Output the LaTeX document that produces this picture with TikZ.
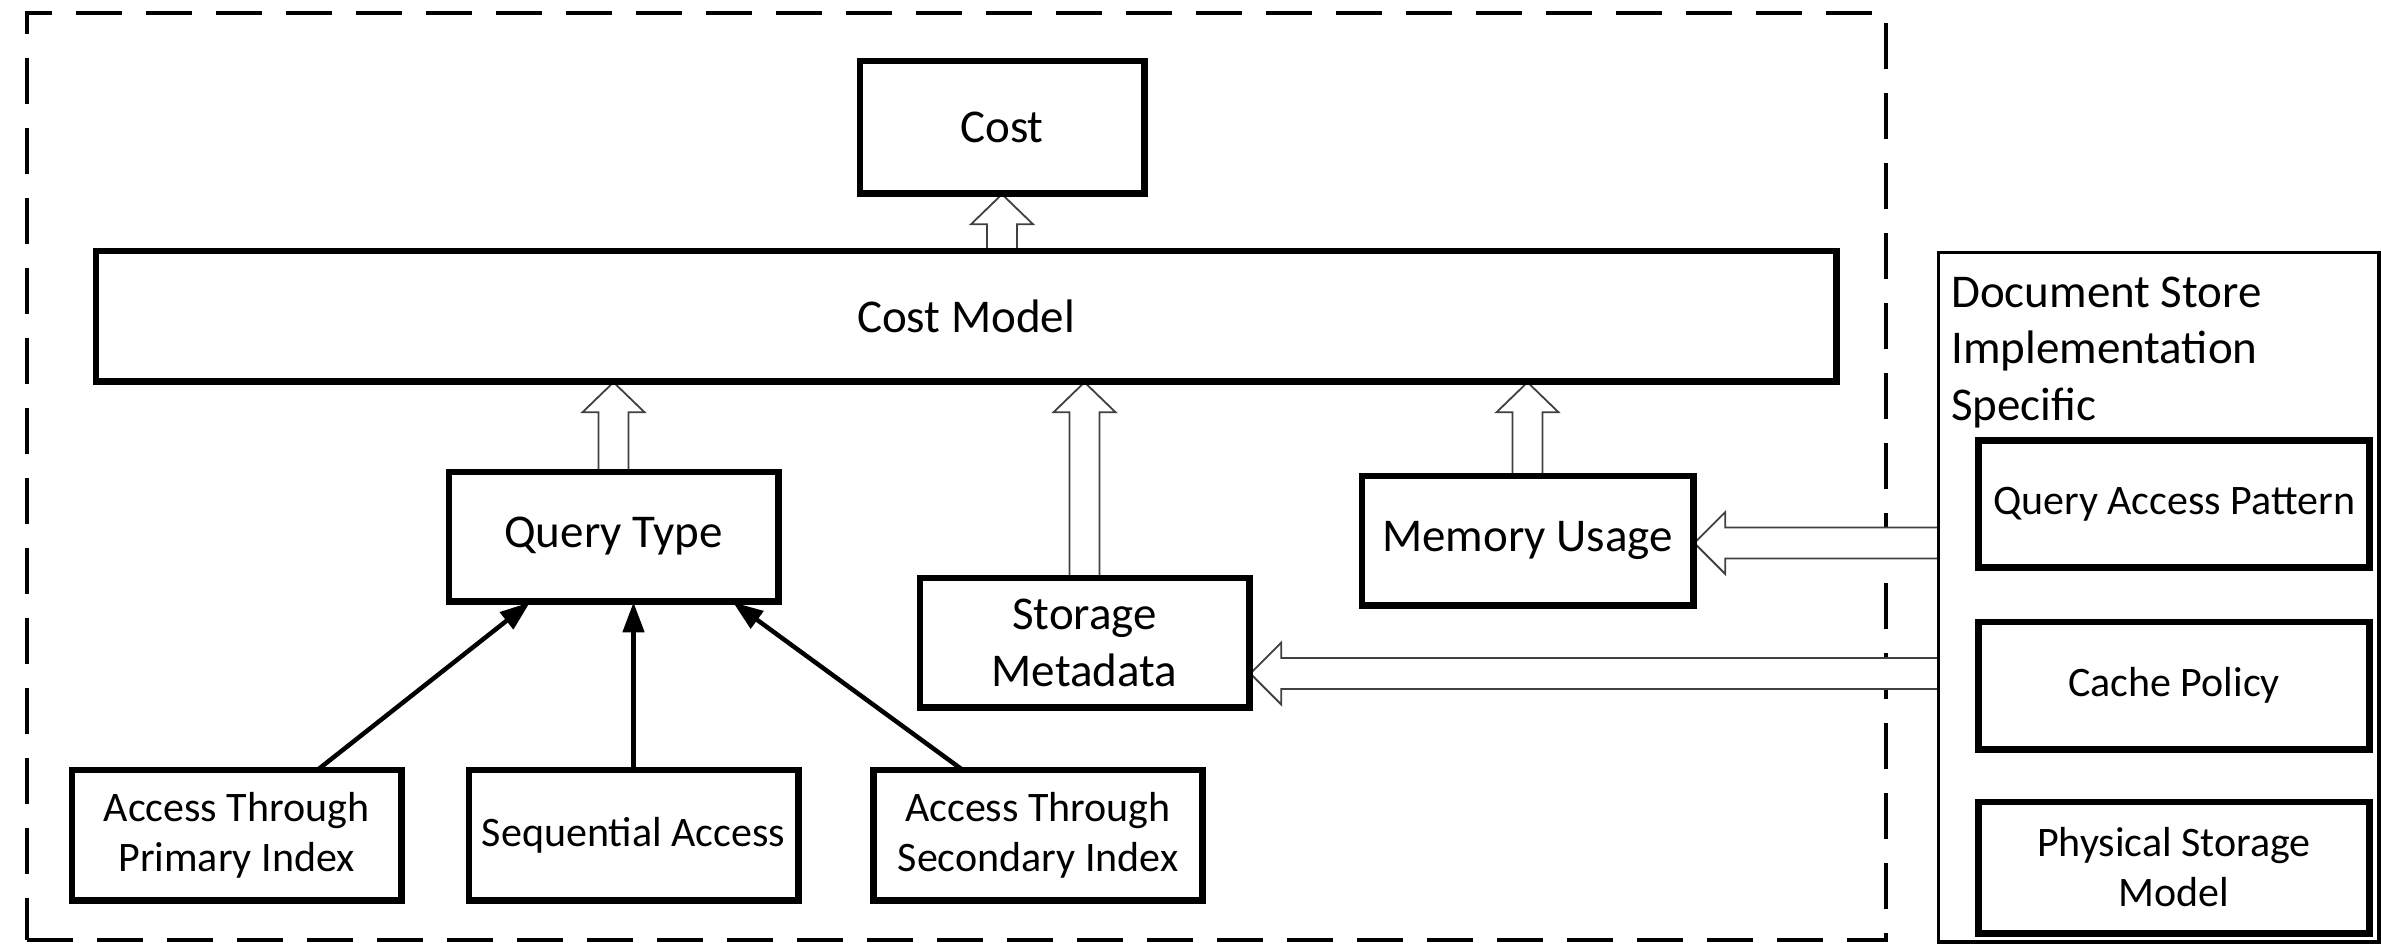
\documentclass[tikz,border=0pt]{standalone}
\usepackage{fontspec}
\setmainfont{Carlito}
\usetikzlibrary{arrows.meta,calc}

\tikzset{
  bigtxt/.style={font=\fontsize{47}{57}\selectfont},
  smalltxt/.style={font=\fontsize{42}{50}\selectfont},
  blk/.style={bigtxt, draw, line width=4.5pt, inner sep=0pt, align=center,
              minimum width=327pt, minimum height=127pt},
  sblk/.style={blk, smalltxt},
  frameline/.style={draw, line width=4pt, dash pattern=on 46pt off 24pt},
  hollow/.style={draw=black!75, line width=1.8pt, fill=white, line join=miter},
  solidarrow/.style={line width=4.5pt, -{Triangle[length=30pt,width=21pt]}},
}

% upward hollow block arrow: #1 tail, #2 tip
\newcommand\hollowUp[2]{%
  \path[hollow] let \p1=(#1), \p2=(#2) in
    ({\x1-15pt},{\y1}) -- ({\x1-15pt},{\y2-30pt}) -- ({\x1-31pt},{\y2-30pt})
    -- ({\x1},{\y2}) -- ({\x1+31pt},{\y2-30pt}) -- ({\x1+15pt},{\y2-30pt})
    -- ({\x1+15pt},{\y1});
}
% leftward hollow block arrow: #1 tail, #2 tip
\newcommand\hollowLeft[2]{%
  \path[hollow] let \p1=(#1), \p2=(#2) in
    ({\x1},{\y1+15.5pt}) -- ({\x2+31pt},{\y1+15.5pt}) -- ({\x2+31pt},{\y1+31pt})
    -- ({\x2},{\y1}) -- ({\x2+31pt},{\y1-31pt}) -- ({\x2+31pt},{\y1-15.5pt})
    -- ({\x1},{\y1-15.5pt});
}

\begin{document}
\begin{tikzpicture}[x=1pt, y=-1pt]
  \useasboundingbox (0,0) rectangle (2381,943);

  % dashed boundary of the cost model part
  \node[frameline, minimum width=1859pt, minimum height=927pt, inner sep=0pt]
    (frame) at (956.5,476.5) {};

  % node placement (boxes drawn after the block arrows)
  \path
    (1002,127)    node[blk, minimum width=282pt, minimum height=130pt] (cost) {Cost}
    (966,316)     node[blk, minimum width=1738pt, minimum height=128pt] (cm) {Cost Model}
    (613.5,536.5) node[blk] (qt) {Query Type}
    (1084.5,642.5) node[blk] (sm) {Storage\\Metadata}
    (1527.5,540.5) node[blk, minimum width=329pt] (mu) {Memory Usage}
    (236.5,835)   node[sblk, minimum height=128pt] (pri) {Access Through\\Primary Index}
    (633.5,835)   node[sblk, minimum height=128pt] (seq) {Sequential Access}
    (1038,835)    node[sblk, minimum height=128pt] (sec) {Access Through\\Secondary Index};

  \node[draw, line width=2.5pt, minimum width=439pt, minimum height=688pt, inner sep=0pt]
    (doc) at (2158.5,597) {};
  \node[bigtxt, font=\fontsize{47}{56.5}\selectfont, anchor=base west, align=left,
        inner sep=0pt] (doclabel) at (1951,420)
    {Document Store\\Implementation\\Specific};
  \path
    (2174,504)   node[sblk, minimum width=389pt, minimum height=125pt] (qap) {Query Access Pattern}
    (2174,685.5) node[sblk, minimum width=389pt, minimum height=125pt] (cp) {Cache Policy}
    (2174,867.5) node[sblk, minimum width=389pt, minimum height=129pt] (psm) {Physical Storage\\Model};

  % ports on the implementation-specific side
  \coordinate (portA) at (doc.west |- 0,543);
  \coordinate (portB) at (doc.west |- 0,673.5);

  % block arrows
  \hollowUp{cost.south |- cm.north}{cost.south}
  \hollowUp{qt.north}{qt.north |- cm.south}
  \hollowUp{sm.north}{sm.north |- cm.south}
  \hollowUp{mu.north}{mu.north |- cm.south}
  \hollowLeft{portA}{portA -| mu.east}
  \hollowLeft{portB}{portB -| sm.east}

  % redraw box borders on top of the arrow tails
  \foreach \n in {cost,cm,qt,sm,mu,qap,cp,psm,pri,seq,sec}
    \draw[line width=4.5pt] (\n.south west) rectangle (\n.north east);
  \draw[line width=2.5pt] (doc.south west) rectangle (doc.north east);

  % access paths feeding the query type
  \draw[solidarrow] ([xshift=82.5pt]pri.north) -- ([xshift=-83.5pt]qt.south);
  \draw[solidarrow] (seq.north) -- (seq.north |- qt.south);
  \draw[solidarrow] ([xshift=-77pt]sec.north) -- ([xshift=119.5pt]qt.south);
\end{tikzpicture}
\end{document}
